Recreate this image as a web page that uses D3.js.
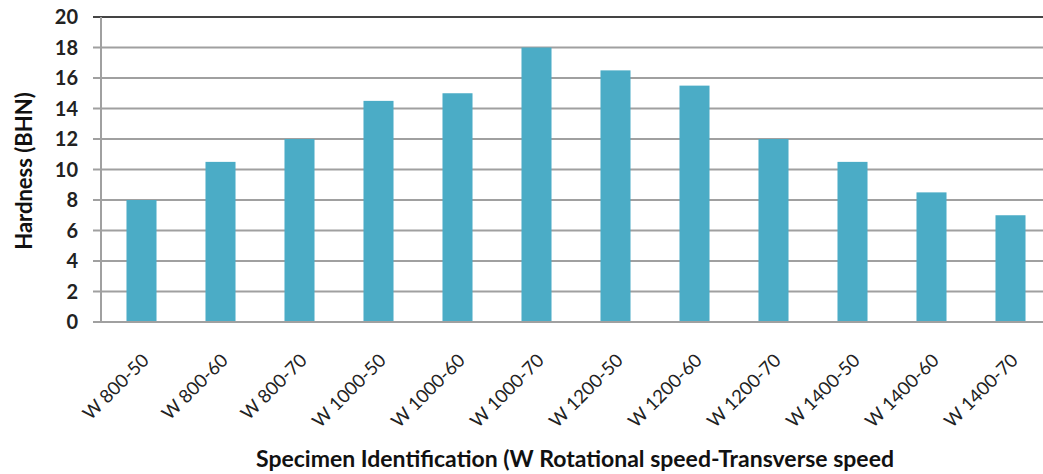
<!DOCTYPE html>
<meta charset="utf-8">
<script src="https://d3js.org/d3.v7.min.js"></script>
<style>
  body { margin: 0; background: #fff; }
  text { font-family: Lato, "Open Sans", sans-serif; }
</style>
<div id="my_dataviz"></div>
<script>

// data
var specimens = ["W 800-50", "W 800-60", "W 800-70", "W 1000-50", "W 1000-60", "W 1000-70",
                 "W 1200-50", "W 1200-60", "W 1200-70", "W 1400-50", "W 1400-60", "W 1400-70"];
var hardness = [8, 10.5, 12, 14.5, 15, 18, 16.5, 15.5, 12, 10.5, 8.5, 7];
var yTicks = [0, 2, 4, 6, 8, 10, 12, 14, 16, 18, 20];

var margin = {top: 17, right: -7, bottom: 152, left: 102},
    width = 1043 - margin.left - margin.right,
    height = 474 - margin.top - margin.bottom;

var svg = d3.select("#my_dataviz")
  .append("svg")
    .attr("width", 1043)
    .attr("height", 474)
  .append("g")
    .attr("transform", "translate(" + margin.left + "," + margin.top + ")");

var x = d3.scaleBand()
    .domain(specimens)
    .range([0, width])
    .paddingInner(0.62)
    .paddingOuter(0.31);

var y = d3.scaleLinear()
    .domain([0, 20])
    .range([height, 0]);

// horizontal grid lines (with short ticks left of the axis)
svg.append("g")
  .selectAll("line")
  .data(yTicks)
  .enter().append("line")
    .attr("x1", -9)
    .attr("x2", width + 10)
    .attr("y1", function(d) { return y(d); })
    .attr("y2", function(d) { return y(d); })
    .attr("stroke", function(d) { return d == 20 ? "#444" : "#a0a0a0"; })
    .attr("stroke-width", 2);

// y axis labels
svg.append("g")
  .selectAll("text")
  .data(yTicks)
  .enter().append("text")
    .attr("x", -24)
    .attr("y", function(d) { return y(d); })
    .attr("dy", "0.36em")
    .attr("text-anchor", "end")
    .attr("font-size", "20px")
    .attr("font-weight", "bold")
    .attr("fill", "#222")
    .text(function(d) { return d; });

// y axis line
svg.append("line")
    .attr("x1", -1).attr("x2", -1)
    .attr("y1", 0).attr("y2", height)
    .attr("stroke", "#a0a0a0")
    .attr("stroke-width", 2);

// bars
svg.append("g")
  .selectAll("rect")
  .data(hardness)
  .enter().append("rect")
    .attr("x", function(d, i) { return x(specimens[i]); })
    .attr("y", function(d) { return y(d); })
    .attr("width", x.bandwidth())
    .attr("height", function(d) { return y(0) - y(d); })
    .attr("fill", "#4bacc6");

// bottom axis line drawn over bars
svg.append("line")
    .attr("x1", -9).attr("x2", width + 10)
    .attr("y1", height).attr("y2", height)
    .attr("stroke", "#a0a0a0")
    .attr("stroke-width", 2);

// x labels rotated
svg.append("g")
  .selectAll("text")
  .data(specimens)
  .enter().append("text")
    .attr("text-anchor", "end")
    .attr("font-size", "18.5px")
    .attr("fill", "#222")
    .attr("transform", function(d) {
      return "translate(" + (x(d) + x.bandwidth() / 2 + 4) + "," + (height + 35) + ") rotate(-45)";
    })
    .attr("dy", "0.35em")
    .text(function(d) { return d; });

// axis titles
svg.append("text")
    .attr("x", 473)
    .attr("y", 450)
    .attr("text-anchor", "middle")
    .attr("font-size", "23px")
    .attr("font-weight", "bold")
    .attr("fill", "#111")
    .text("Specimen Identification (W Rotational speed-Transverse speed");

svg.append("text")
    .attr("transform", "translate(-70," + 154 + ") rotate(-90)")
    .attr("text-anchor", "middle")
    .attr("font-size", "22px")
    .attr("font-weight", "bold")
    .attr("fill", "#111")
    .text("Hardness (BHN)");

</script>
